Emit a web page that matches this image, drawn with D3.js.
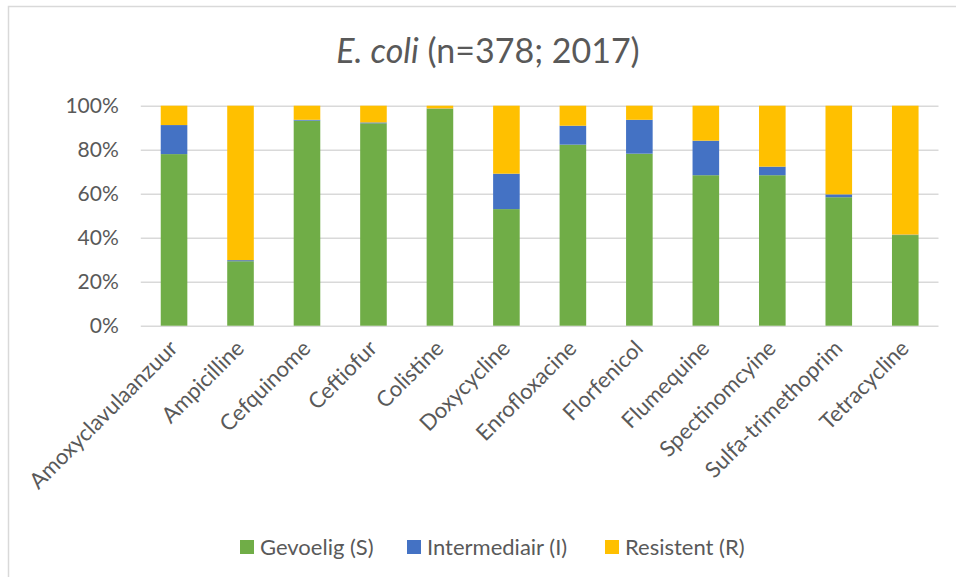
<!DOCTYPE html>
<html><head><meta charset="utf-8">
<script src="https://cdn.jsdelivr.net/npm/d3@7"></script>
<style>body{margin:0;background:#fff}svg{display:block;font-family:Lato,"Open Sans",sans-serif}</style>
</head><body><svg id="c" width="956" height="577"></svg>
<script>
const categories=["Amoxyclavulaanzuur","Ampicilline","Cefquinome","Ceftiofur","Colistine","Doxycycline","Enrofloxacine","Florfenicol","Flumequine","Spectinomcyine","Sulfa-trimethoprim","Tetracycline"];
const gevoelig=[78,29.3,93.2,92,98.5,53,82.3,78.2,68.4,68.4,58.4,41.2];
const intermediair=[13.2,0.5,0.4,0.4,0.2,16.1,8.6,15.4,15.7,3.9,1.3,0.2];
const resistent=[8.8,70.2,6.4,7.6,1.3,30.9,9.1,6.4,15.9,27.7,40.3,58.6];
const seriesNames=["Gevoelig (S)","Intermediair (I)","Resistent (R)"];
const colors=["#70ad47","#4472c4","#ffc000"];
const yTicks=[0,0.2,0.4,0.6,0.8,1];

const svg=d3.select("#c");
svg.append("path").attr("d","M8.5,577V6.5H956").attr("fill","none").attr("stroke","#d9d9d9").attr("stroke-width",1.5);

const x=d3.scaleBand().domain(categories).range([140.8,938.5]).paddingInner(0.6).paddingOuter(0.3);
const y=d3.scaleLinear().domain([0,1]).range([325.7,105.7]);

const yAxis=svg.append("g").attr("transform","translate(140.8,0)")
 .call(d3.axisLeft(y).tickValues(yTicks).tickFormat(d3.format(".0%")).tickSize(-(938.5-140.8)).tickPadding(22));
yAxis.select(".domain").remove();
yAxis.selectAll(".tick line").attr("stroke","#d9d9d9").attr("stroke-width",1.5);
yAxis.selectAll(".tick text").attr("fill","#595959").attr("font-size",21).attr("font-family","Lato");

const rows=categories.map((c,i)=>({cat:c,s:gevoelig[i]/100,i:intermediair[i]/100,r:resistent[i]/100}));
const stack=d3.stack().keys(["s","i","r"])(rows);
svg.append("g").selectAll("g").data(stack).join("g").attr("fill",(d,k)=>colors[k])
 .selectAll("rect").data(d=>d).join("rect")
 .attr("x",d=>x(d.data.cat)).attr("width",x.bandwidth())
 .attr("y",d=>y(d[1])).attr("height",d=>Math.max(0,y(d[0])-y(d[1])));

const xAxis=svg.append("g").attr("transform","translate(0,325.7)").call(d3.axisBottom(x).tickSize(0).tickPadding(0));
xAxis.select(".domain").remove();
xAxis.selectAll(".tick text").attr("fill","#595959").attr("font-size",22).attr("font-family","Lato")
 .attr("text-anchor","end").attr("dy",null).attr("y",0)
 .attr("transform","translate(5,24) rotate(-45)");

const title=svg.append("text").attr("x",488).attr("y",63).attr("text-anchor","middle")
 .attr("font-size",34).attr("fill","#595959").attr("font-family","Lato");
title.append("tspan").attr("font-style","italic").text("E. coli");
title.append("tspan").text(" (n=378; 2017)");

const legX=[240,407,605];
const lg=svg.append("g").selectAll("g").data(seriesNames).join("g").attr("transform",(d,i)=>`translate(${legX[i]},540)`);
lg.append("rect").attr("width",14).attr("height",14).attr("fill",(d,i)=>colors[i]);
lg.append("text").attr("x",20).attr("y",15).attr("font-size",22).attr("fill","#595959").attr("font-family","Lato").text(d=>d);
</script></body></html>
